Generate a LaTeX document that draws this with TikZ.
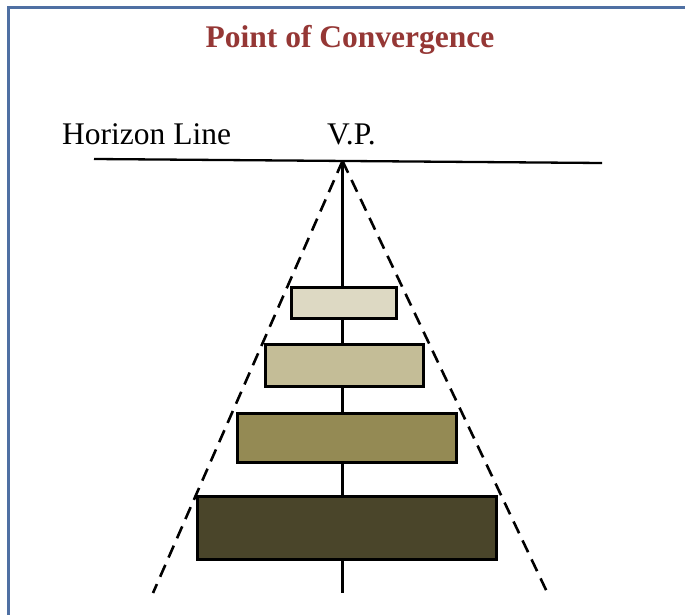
\documentclass[tikz,border=0pt]{standalone}
\usepackage{fontspec}
\setmainfont{Liberation Serif}
\definecolor{frameblue}{RGB}{79,112,163}
\definecolor{titlered}{RGB}{149,55,53}
\definecolor{tanA}{RGB}{221,217,195}
\definecolor{tanB}{RGB}{196,189,151}
\definecolor{tanC}{RGB}{148,138,84}
\definecolor{tanD}{RGB}{74,69,42}
\begin{document}
\begin{tikzpicture}[x=1pt,y=-1pt,
  lbl/.style={font=\fontsize{31.5}{36}\selectfont, inner sep=0pt, anchor=base west},
  bar/.style={draw=black, line width=3pt, inner sep=0pt, anchor=north west},
  guide/.style={dash pattern=on 13pt off 8pt, line width=2.6pt}]
\useasboundingbox (0,0) rectangle (685,615);
\fill[white] (0,0) rectangle (685,615);
% frame (open at right and bottom)
\draw[frameblue, line width=2.5pt] (8.5,615) -- (8.5,7.5) -- (685,7.5);
% title
\node[font=\fontsize{31.5}{36}\selectfont\bfseries, text=titlered, inner sep=0pt, anchor=base] (title) at (350,48) {Point of Convergence};
% labels
\node[lbl] (hlabel) at (62,145) {Horizon Line};
\node[lbl] (vplabel) at (327,145) {V.P.};
% horizon line
\coordinate (hl) at (94,159);
\coordinate (hr) at (602,163);
\draw[line width=2.3pt] (hl) -- (hr);
% vanishing point and guide ends
\coordinate (vp) at (342.5,161);
\coordinate (bot) at (342.5,593);
\coordinate (gl) at (153,593);
\coordinate (gr) at (547,592);
\draw[line width=2.5pt] (vp) -- (bot);
\draw[guide] (vp) -- (gl);
\draw[guide] (vp) -- (gr);
% boxes
\node[bar, fill=tanA, minimum width=105pt, minimum height=31pt] (b1) at (290,286) {};
\node[bar, fill=tanB, minimum width=158pt, minimum height=42pt] (b2) at (264,343) {};
\node[bar, fill=tanC, minimum width=219pt, minimum height=49pt] (b3) at (236,412) {};
\node[bar, fill=tanD, minimum width=299pt, minimum height=63pt] (b4) at (196,495) {};
\end{tikzpicture}
\end{document}
